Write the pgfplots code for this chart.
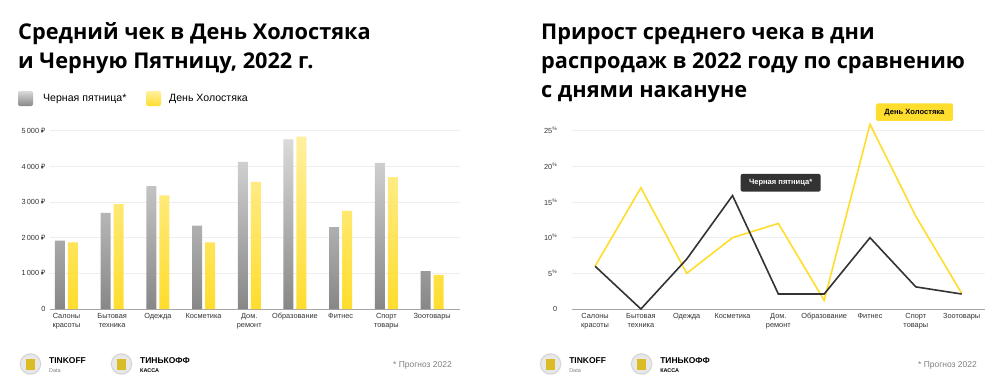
\documentclass[border=0pt]{standalone}
\usepackage{fontspec}
\setmainfont{Liberation Sans}
\newfontfamily\titlefont{Open Sans}
\newfontfamily\rubfont{Noto Sans}
\usepackage{pgfplots}
\pgfplotsset{compat=1.18}
\definecolor{tyellow}{RGB}{255,221,45}
\definecolor{tyellowlt}{RGB}{255,240,160}
\definecolor{tgraylt}{RGB}{218,218,218}
\definecolor{tgraydk}{RGB}{135,135,135}
\definecolor{tdark}{RGB}{51,51,51}
\definecolor{gridc}{RGB}{238,238,238}
\newcommand{\pct}{\textsuperscript{\fontsize{5}{5}\selectfont\%}}
\newcommand{\rub}{{\rubfont ₽}}
\begin{document}
\begin{tikzpicture}
\begin{scope}[x=1bp,y=1bp]
\useasboundingbox (0,0) rectangle (1000,390);
\fill[white] (0,0) rectangle (1000,390);
% titles
\node[anchor=base west,inner sep=0] at (18,351) {\titlefont\bfseries\fontsize{21.8}{24}\selectfont Средний чек в День Холостяка};
\node[anchor=base west,inner sep=0] at (18,322) {\titlefont\bfseries\fontsize{21.8}{24}\selectfont и Черную Пятницу, 2022 г.};
\node[anchor=base west,inner sep=0] at (541,350.7) {\titlefont\bfseries\fontsize{21.8}{24}\selectfont Прирост среднего чека в дни};
\node[anchor=base west,inner sep=0] at (541,321.7) {\titlefont\bfseries\fontsize{21.8}{24}\selectfont распродаж в 2022 году по сравнению};
\node[anchor=base west,inner sep=0] at (541,292.7) {\titlefont\bfseries\fontsize{21.8}{24}\selectfont с днями накануне};
% legend (left chart)
\shade[top color=tgraylt,bottom color=tgraydk,rounded corners=2] (18,284) rectangle (33,299);
\node[anchor=west,inner sep=0] at (43,291.5) {\fontsize{10.6}{12}\selectfont Черная пятница*};
\shade[top color=tyellowlt,bottom color=tyellow,rounded corners=2] (146,284) rectangle (161,299);
\node[anchor=west,inner sep=0] at (169,291.5) {\fontsize{10.6}{12}\selectfont День Холостяка};
% footers
\foreach \ox in {0,522}{
  \begin{scope}[xshift=\ox]
  \fill[gray!18] (30.5,26) circle (11);
  \draw[gray!45, line width=0.4] (30.5,26) circle (10);
  \fill[tyellow!85!black] (26,20) rectangle (35,31);
  \node[anchor=base west,inner sep=0] at (49,27) {\bfseries\fontsize{8.5}{10}\selectfont TINKOFF};
  \node[anchor=base west,inner sep=0] at (49,18) {\fontsize{5.5}{7}\selectfont\color{gray} Data};
  \fill[gray!18] (121.5,26) circle (11);
  \draw[gray!45, line width=0.4] (121.5,26) circle (10);
  \fill[tyellow!85!black] (117,20) rectangle (126,31);
  \node[anchor=base west,inner sep=0] at (140,27) {\bfseries\fontsize{8.5}{10}\selectfont ТИНЬКОФФ};
  \node[anchor=base west,inner sep=0] at (140,18) {\bfseries\fontsize{5.5}{7}\selectfont КАССА};
  \end{scope}
}
\node[anchor=base west,inner sep=0,text=gray] at (393,23) {\fontsize{8.5}{10}\selectfont * Прогноз 2022};
\node[anchor=base west,inner sep=0,text=gray] at (918,23) {\fontsize{8.5}{10}\selectfont * Прогноз 2022};
\end{scope}

\pgfplotsset{every axis/.append style={
  scale only axis,
  axis x line*=bottom, axis y line*=left,
  y axis line style={draw=none},
  x axis line style={-, draw=gray!70, line width=1bp},
  major tick length=0pt,
  ymajorgrids, grid style={gridc, line width=0.8bp},
  tick label style={font=\fontsize{7.4}{8.8}\selectfont, text=tdark},
  xticklabel style={align=center, yshift=-1bp},
  yticklabel style={xshift=-1bp},
  xtick=data,
  xticklabels={Салоны\\красоты, Бытовая\\техника, Одежда, Косметика, Дом.\\ремонт, Образование, Фитнес, Спорт\\товары, Зоотовары},
}}

% left chart
\begin{axis}[
  at={(50bp,81bp)}, anchor=south west,
  width=410bp, height=178.2bp,
  xmin=-0.36, xmax=8.61, ymin=0, ymax=5000,
  ytick={0,1000,2000,3000,4000,5000},
  yticklabels={0, 1\,000 \rub, 2\,000 \rub, 3\,000 \rub, 4\,000 \rub, 5\,000 \rub},
  ybar=3bp, bar width=10bp,
]
\addplot[draw=none, top color=tgraylt, bottom color=tgraydk] coordinates {
(0,1920) (1,2700) (2,3450) (3,2340) (4,4130) (5,4760) (6,2300) (7,4100) (8,1060)};
\addplot[draw=none, top color=tyellowlt, bottom color=tyellow] coordinates {
(0,1870) (1,2940) (2,3190) (3,1870) (4,3570) (5,4840) (6,2750) (7,3700) (8,960)};
\end{axis}

% right chart
\begin{axis}[
  at={(571.7bp,81bp)}, anchor=south west,
  width=413.3bp, height=178.3bp,
  xmin=-0.51, xmax=8.51, ymin=0, ymax=25, clip=false,
  ytick={0,5,10,15,20,25},
  yticklabels={0, 5\pct, 10\pct, 15\pct, 20\pct, 25\pct},
  yticklabel style={xshift=-10bp},
]
\addplot[tyellow, line width=1.6bp, mark=none] coordinates {
(0,6) (1,17) (2,5) (3,10) (4,12) (5,1.2) (6,25.9) (7,13) (8,2.2)};
\addplot[tdark, line width=1.6bp, mark=none] coordinates {
(0,6) (1,0) (2,7) (3,15.9) (4,2.1) (5,2.1) (6,10) (7,3.1) (8,2.1)};
\node[fill=tdark, text=white, rounded corners=2bp, minimum width=80bp, minimum height=17.7bp, inner sep=0, font=\bfseries\fontsize{7.6}{9}\selectfont] at (axis cs:4.05,17.7) {Черная пятница*};
\node[fill=tyellow, text=black, rounded corners=2bp, minimum width=77bp, minimum height=17.4bp, inner sep=0, font=\bfseries\fontsize{7.6}{9}\selectfont] at (axis cs:6.97,27.6) {День Холостяка};
\end{axis}
\end{tikzpicture}
\end{document}
